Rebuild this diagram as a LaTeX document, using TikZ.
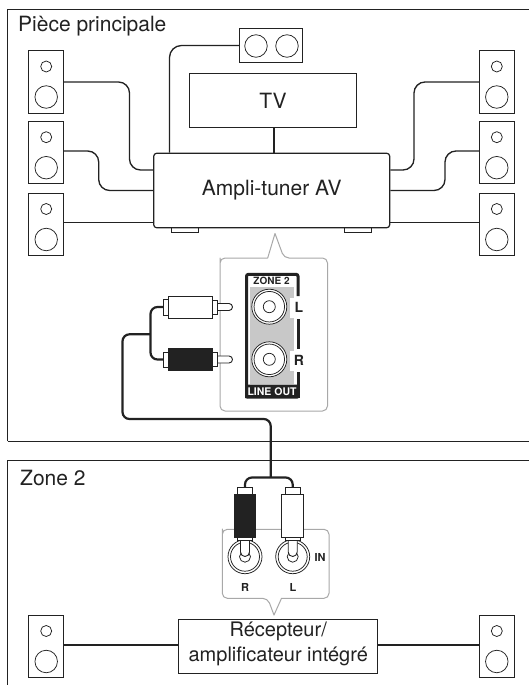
\documentclass[tikz,border=0pt]{standalone}
\usepackage{fontspec}
\setmainfont{TeX Gyre Heros}
\definecolor{ink}{HTML}{222222}
\definecolor{callout}{HTML}{A8A8A8}
\definecolor{panelgray}{HTML}{C8C8C8}
\tikzset{
  box/.style={draw=ink,line width=1pt,fill=white,rectangle,inner sep=0pt},
  wire/.style={draw=ink,line width=1.35pt,rounded corners=11pt},
  cable/.style={draw=ink,line width=2.2pt,rounded corners=7pt},
  room/.style={draw=ink,line width=1pt},
  lab/.style={font=\fontsize{21}{24}\selectfont,inner sep=0pt,text=ink},
  small/.style={font=\fontsize{10}{10}\selectfont\bfseries,inner sep=0pt,text=ink},
  smallb/.style={font=\fontsize{11}{11}\selectfont\bfseries,inner sep=0pt,text=ink},
  bubble/.style={draw=callout,line width=1pt,fill=white,line join=round},
  ring/.style={draw=ink,line width=0.75pt,fill=white,circle,inner sep=0pt},
  plugpart/.style={draw=ink,line width=0.9pt,fill=white},
}
\newcommand{\spk}[3]{%
  \node[box,minimum width=35pt,minimum height=62.5pt] (#1) at (#2,#3) {};
  \node[ring,minimum size=11pt] (#1t) at (#2,#3-15.5) {};
  \node[ring,minimum size=22.5pt] (#1b) at (#2,#3+15) {};
}
% horizontal RCA plug: name, y centre, fill colour
\newcommand{\hplug}[3]{%
  \path[plugpart] (214,#2-3.5) -- (229,#2-3.5) arc[start angle=90,end angle=-90,radius=3.5pt] -- (214,#2+3.5) -- cycle;
  \path[plugpart] (212,#2-7) rectangle (217,#2+7);
  \path[plugpart] (163.5,#2-7.5) rectangle (169,#2+8);
  \node[draw=ink,line width=1pt,fill=#3,rectangle,minimum width=44.5pt,minimum height=22pt,inner sep=0pt] (#1) at (190.5,#2) {};
  \coordinate (#1c) at (163.5,#2);
}
% vertical RCA plug: name, x centre, fill colour
\newcommand{\vplug}[3]{%
  \node[ring,minimum size=11pt] at (#2,556.7) {};
  \path[plugpart] (#2-4.5,538) -- (#2-4.5,552) arc[start angle=180,end angle=360,radius=4.5pt] -- (#2+4.5,538) -- cycle;
  \path[plugpart] (#2-7.5,535) rectangle (#2+7.5,540.5);
  \path[plugpart] (#2-7.5,487.5) rectangle (#2+7.5,494.5);
  \node[draw=ink,line width=1pt,fill=#3,rectangle,minimum width=21.5pt,minimum height=43pt,inner sep=0pt] (#1) at (#2,515.5) {};
  \coordinate (#1c) at (#2,487.5);
}
\begin{document}
\begin{tikzpicture}[x=1pt,y=-1pt]
\useasboundingbox (0,0) rectangle (529,685);
\fill[white] (0,0) rectangle (529,685);
% rooms
\draw[room] (7.5,441) -- (7.5,9.5) -- (529,9.5);
\draw[room] (7.5,441) -- (529,441);
\draw[room] (7.5,685) -- (7.5,460) -- (529,460);
\node[lab,anchor=west] (room1) at (18,26) {Pièce principale};
\node[lab,anchor=west] (room2) at (20,478) {Zone 2};
% main room equipment
\spk{sa}{46.2}{82}
\spk{sb}{46.2}{152.7}
\spk{sc}{46.2}{224.5}
\spk{sd}{496.8}{82}
\spk{se}{496.8}{152.7}
\spk{sf}{496.8}{224.5}
\node[box,minimum width=62.5pt,minimum height=34.5pt] (centre) at (271,45.5) {};
\node[ring,minimum size=22.5pt] (cl) at (256,46) {};
\node[ring,minimum size=22.5pt] (cr) at (287,46) {};
\node[box,minimum width=166.5pt,minimum height=53.5pt,lab,draw=ink] (tv) at (273,100.5) {TV};
\node[box,minimum width=27pt,minimum height=6pt] (footl) at (185,229) {};
\node[box,minimum width=27pt,minimum height=6pt] (footr) at (357.5,229) {};
\node[box,rounded corners=3pt,minimum width=236pt,minimum height=74.5pt,lab,line width=1.2pt] (amp) at (271.7,190.5) {Ampli-tuner AV};
\draw[ink,line width=1.1pt] ([xshift=1pt]tv.south) -- ([xshift=2.3pt]amp.north);
\draw[wire,rounded corners=12pt] (centre.west) -- (169.5,45.5) -- (169.5,152.7);
\draw[wire] (sa.east) -- (129.5,82) -- (129.5,170) -- ([yshift=20.5pt]amp.west);
\draw[wire] ([yshift=1.7pt]sb.east) -- (98.7,151) -- (98.7,190.5) -- (amp.west);
\draw[wire] ([yshift=2.2pt]sc.east) -- ([yshift=-31.8pt]amp.west);
\draw[wire] (sd.west) -- (414,82) -- (414,170) -- ([yshift=20.5pt]amp.east);
\draw[wire] ([yshift=1.7pt]se.west) -- (445,151) -- (445,190.5) -- (amp.east);
\draw[wire] ([yshift=2.2pt]sf.west) -- ([yshift=-31.8pt]amp.east);
% upper callout
\draw[bubble,rounded corners=5pt] (220,263) -- (220,411) -- (327.5,411) -- (327.5,258) -- (284,258) [sharp corners] -- (275,233.5) -- (267.7,258) [rounded corners=5pt] -- (220,258) -- cycle;
% line-out panel
\fill[panelgray] (250,286.5) rectangle (294,384);
\fill[white] (290,298) rectangle (305,318);
\fill[white] (290,351) rectangle (305,371);
\draw[ink,line width=3pt,rounded corners=2pt] (246.5,398) -- (246.5,274.3) -- (298,274.3) -- (298,296);
\draw[ink,line width=3pt] (298,319) -- (298,349);
\draw[ink,line width=3pt] (298,372) -- (298,398);
\fill[ink,rounded corners=2pt] (245,384.5) rectangle (299.5,398.5);
\node[small] (zlab) at (271.5,280.8) {ZONE 2};
\node[small,text=white,font=\fontsize{10.5}{10}\selectfont\bfseries] (lolab) at (272,391.7) {LINE OUT};
\node[small,font=\fontsize{14}{14}\selectfont\bfseries] (llab) at (299,307.5) {L};
\node[small,font=\fontsize{14}{14}\selectfont\bfseries] (rlab) at (299,360.7) {R};
\node[ring,minimum size=35pt] (jl) at (269.3,306.7) {};
\node[ring,minimum size=30.5pt] at (269.3,306.7) {};
\node[ring,minimum size=12pt] at (269.3,306.7) {};
\node[ring,minimum size=35pt] (jr) at (269.3,359.3) {};
\node[ring,minimum size=30.5pt] at (269.3,359.3) {};
\node[ring,minimum size=12pt] at (269.3,359.3) {};
\hplug{pw}{307}{white}
\hplug{pb}{359.5}{ink}
% cable between rooms
\coordinate (fork) at (150.5,334.3);
\coordinate (drop) at (270.7,477.5);
\draw[cable] (pwc) -- (150.5,307) -- (150.5,359.5) -- (pbc);
\draw[cable] (fork) -- (122.5,334.3) -- (122.5,419) -- (270.7,419) -- (drop);
% lower callout
\draw[bubble,rounded corners=5pt] (222.3,534) -- (222.3,598.3) -- (267.7,598.3) [sharp corners] -- (274,615) -- (281.5,598.3) [rounded corners=5pt] -- (329,598.3) -- (329,529.3) -- (222.3,529.3) -- cycle;
\node[ring,minimum size=34pt] (jrr) at (245,556.7) {};
\node[ring,minimum size=29pt] at (245,556.7) {};
\node[ring,minimum size=34pt] (jll) at (292.7,556.7) {};
\node[ring,minimum size=29pt] at (292.7,556.7) {};
\vplug{qb}{245}{ink}
\vplug{qw}{292.7}{white}
\draw[cable] (qbc) -- (245,477.5) -- (292.7,477.5) -- (qwc);
\node[smallb] (inlab) at (320,557.5) {IN};
\node[smallb] (rl) at (245,587) {R};
\node[smallb] (ll) at (293,587) {L};
% zone 2 equipment
\spk{sg}{46.2}{646.5}
\spk{sh}{496.8}{646.5}
\node[box,minimum width=199.5pt,minimum height=54pt] (rec) at (278.2,646) {};
\node[lab,font=\fontsize{20}{24}\selectfont] (rec1) at (278.2,631.5) {Récepteur/};
\node[lab,font=\fontsize{20}{24}\selectfont] (rec2) at (278.2,656) {amplificateur intégré};
\draw[wire] ([yshift=1.5pt]sg.east) -- ([yshift=1pt]rec.west);
\draw[wire] ([yshift=1pt]rec.east) -- ([yshift=1.5pt]sh.west);
\end{tikzpicture}
\end{document}
